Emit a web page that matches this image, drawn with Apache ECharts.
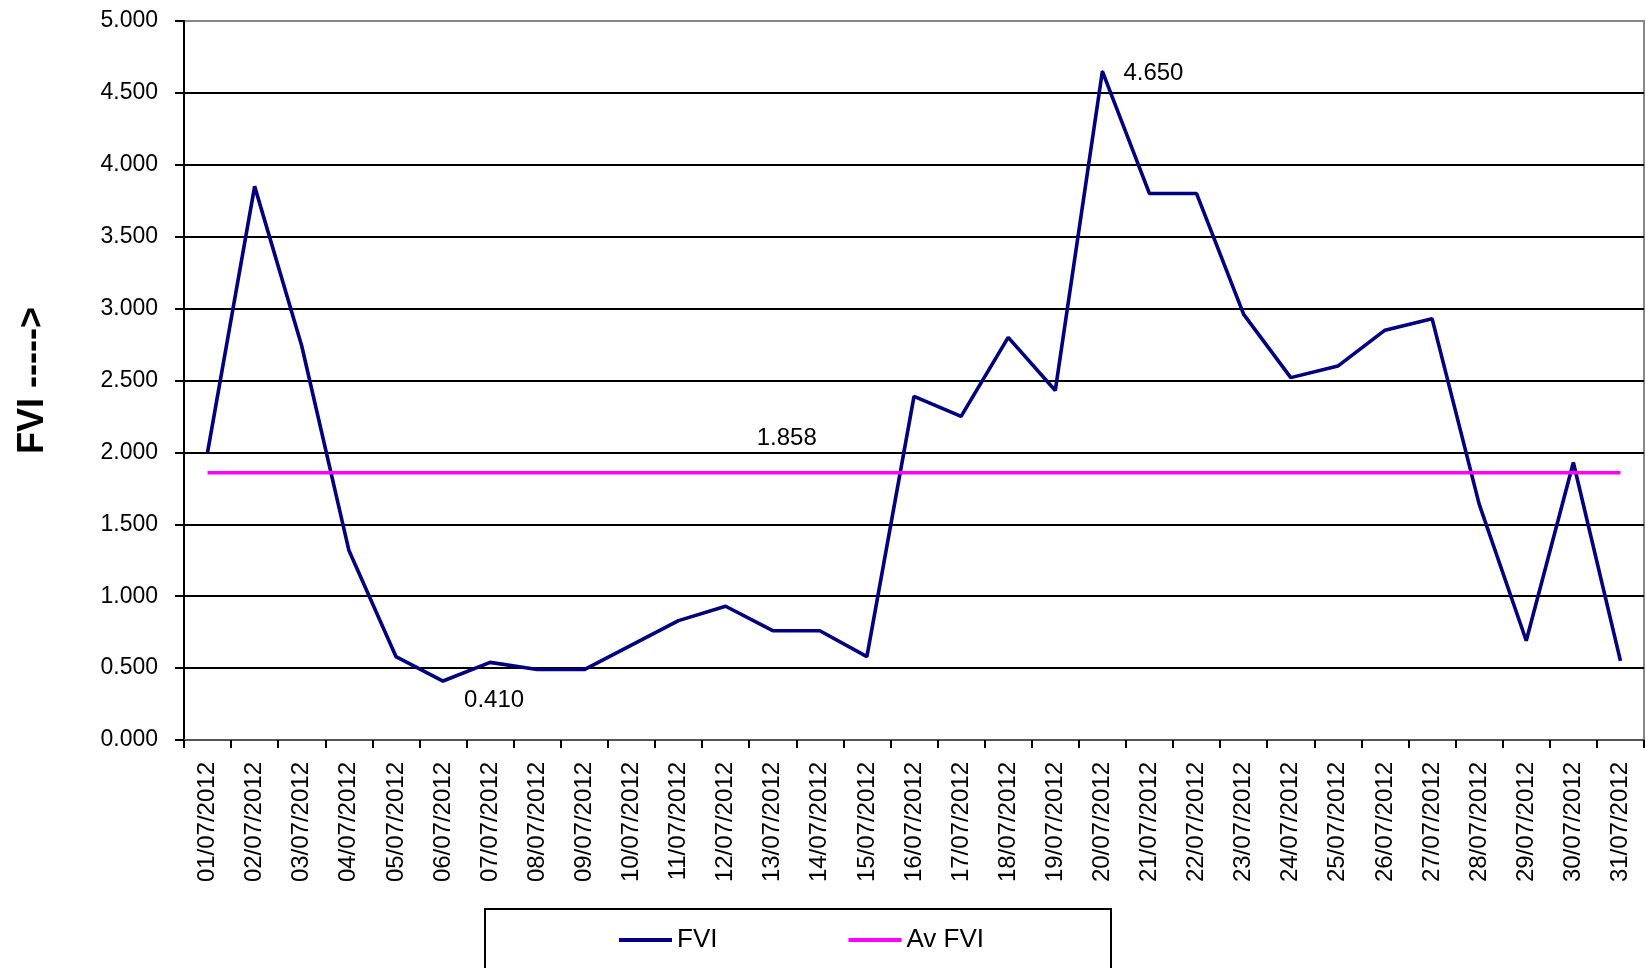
<!DOCTYPE html>
<html lang="en">
<head>
    <meta charset="UTF-8">
    <title>FVI July 2012</title>
    <script src="https://cdn.jsdelivr.net/npm/echarts@6.0.0/dist/echarts.min.js"></script>
    <style>
        html, body {
            margin: 0;
            padding: 0;
            background: #fff;
        }
        #box {
            width: 1646px;
            height: 968px;
        }
    </style>
</head>
<body>
<div id="box"></div>
<script>
    // dates on the x axis
    var days = ['01/07/2012', '02/07/2012', '03/07/2012', '04/07/2012', '05/07/2012', '06/07/2012',
        '07/07/2012', '08/07/2012', '09/07/2012', '10/07/2012', '11/07/2012', '12/07/2012',
        '13/07/2012', '14/07/2012', '15/07/2012', '16/07/2012', '17/07/2012', '18/07/2012',
        '19/07/2012', '20/07/2012', '21/07/2012', '22/07/2012', '23/07/2012', '24/07/2012',
        '25/07/2012', '26/07/2012', '27/07/2012', '28/07/2012', '29/07/2012', '30/07/2012',
        '31/07/2012'];
    // daily FVI
    var fvi = [2.00, 3.85, 2.74, 1.32, 0.58, 0.41, 0.54, 0.49, 0.49, 0.66, 0.83, 0.93,
        0.76, 0.76, 0.58, 2.39, 2.25, 2.80, 2.43, 4.65, 3.80, 3.80, 2.96, 2.52,
        2.60, 2.85, 2.93, 1.64, 0.69, 1.93, 0.55];
    // monthly average
    var avFvi = 1.858;
    var avLine = days.map(function () { return avFvi; });
    // y axis range
    var yMin = 0, yMax = 5, yStep = 0.5;

    var labelFont = {
        fontFamily: 'Liberation Sans, Arial, sans-serif',
        fontSize: 24,
        color: '#000'
    };

    // a point that carries a label needs a (tiny) symbol
    function labelled(v, color, lbl) {
        return {
            value: v,
            symbol: 'circle',
            symbolSize: 2,
            itemStyle: {color: color},
            label: Object.assign({show: true, formatter: v.toFixed(3)}, labelFont, lbl)
        };
    }

    // only min and max points carry a label
    var fviData = fvi.map(function (v, i) {
        if (i === 19) return labelled(v, '#000080', {position: 'right', distance: 20, offset: [0, 2]});
        if (i === 5) return labelled(v, '#000080', {position: 'right', distance: 20, offset: [0, 19]});
        return v;
    });
    var avData = avLine.map(function (v, i) {
        if (i === 12) return labelled(v, '#ff00ff', {position: 'top', distance: 21, offset: [14, 0]});
        return v;
    });

    var splitColors = [];
    for (var k = 0; k <= 10; k++) {
        splitColors.push(k === 10 ? '#888' : '#000');
    }

    var myChart = echarts.init(document.getElementById('box'));
    var option = {
        animation: false,
        backgroundColor: '#fff',
        textStyle: {fontFamily: 'Liberation Sans, Arial, sans-serif'},
        grid: {
            left: 184,
            right: 2,
            top: 21,
            bottom: 228,
            show: true,
            borderColor: '#888',
            borderWidth: 2,
            backgroundColor: '#fff'
        },
        graphic: [{
            type: 'rect',
            shape: {x: 485, y: 909, width: 626, height: 80},
            style: {fill: '#fff', stroke: '#000', lineWidth: 2},
            z: 0
        }],
        legend: {
            left: 614,
            top: 922,
            itemGap: 131,
            itemWidth: 53,
            itemHeight: 4,
            icon: 'rect',
            textStyle: {
                fontFamily: 'Liberation Sans, Arial, sans-serif',
                fontSize: 26,
                color: '#000'
            },
            data: ['FVI', 'Av FVI']
        },
        xAxis: {
            type: 'category',
            data: days,
            boundaryGap: true,
            axisLine: {lineStyle: {color: '#555', width: 2}},
            axisTick: {show: true, interval: 0, length: 8, lineStyle: {color: '#000', width: 2}},
            axisLabel: {
                interval: 0,
                rotate: 90,
                margin: 22,
                fontSize: 24,
                color: '#000'
            },
            splitLine: {show: false}
        },
        yAxis: {
            type: 'value',
            min: yMin,
            max: yMax,
            interval: yStep,
            name: 'FVI ----->',
            nameLocation: 'middle',
            nameGap: 133,
            nameTextStyle: {fontSize: 36, fontWeight: 'bold', color: '#000'},
            axisLine: {show: true, lineStyle: {color: '#000', width: 2}},
            axisTick: {show: true, length: 9, lineStyle: {color: '#000', width: 2}},
            axisLabel: {
                margin: 26,
                fontSize: 23,
                color: '#000',
                formatter: function (v) { return v.toFixed(3); }
            },
            splitLine: {show: true, lineStyle: {color: splitColors, width: 2}}
        },
        series: [
            {
                name: 'FVI',
                type: 'line',
                data: fviData,
                symbol: 'none',
                color: '#000080',
                lineStyle: {color: '#000080', width: 3.6}
            },
            {
                name: 'Av FVI',
                type: 'line',
                data: avData,
                symbol: 'none',
                color: '#ff00ff',
                lineStyle: {color: '#ff00ff', width: 3.6}
            }
        ]
    };
    myChart.setOption(option);
</script>
</body>
</html>
